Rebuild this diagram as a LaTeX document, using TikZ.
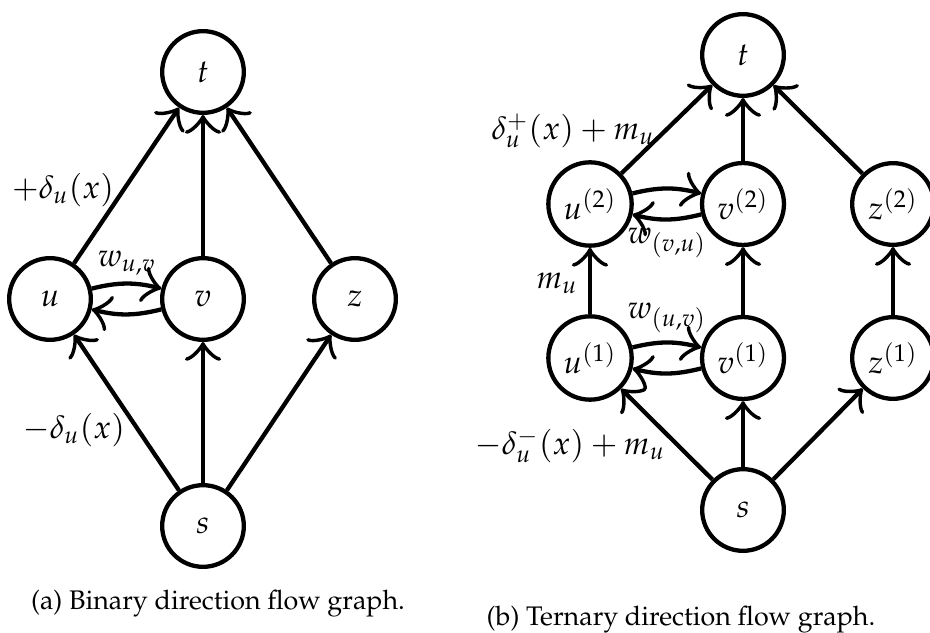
\documentclass[tikz,border=0pt]{standalone}
\usepackage[T1]{fontenc}
\usepackage{mathpazo}
\usetikzlibrary{arrows.meta}
\begin{document}
\begin{tikzpicture}[x=0.3723pt,y=-0.3723pt,
  font=\fontsize{12}{14}\selectfont,
  vtx/.style={circle,draw,line width=1.6pt,minimum size=30.4pt,inner sep=3pt},
  arr/.style={-{Classical TikZ Rightarrow[scale=1.7]},line width=1.6pt},
  lbl/.style={inner sep=0pt},
  captxt/.style={inner sep=0pt,anchor=base,font=\fontsize{10}{12}\selectfont}]
\useasboundingbox (0,0) rectangle (930,633);
% (a)
\node[vtx] (at) at (203,72) {$t$};
\node[vtx] (au) at (50,299) {$u$};
\node[vtx] (av) at (203,299) {$v$};
\node[vtx] (az) at (355,299) {$z$};
\node[vtx] (as) at (203,526) {$s$};
\draw[arr] (au) -- (at);
\draw[arr] (av) -- (at);
\draw[arr] (az) -- (at);
\draw[arr] (as) -- (au);
\draw[arr] (as) -- (av);
\draw[arr] (as) -- (az);
\draw[arr] (au) to[bend left=14] (av);
\draw[arr] (av) to[bend left=14] (au);
\node[lbl] (la1) at (63,190) {$+\delta_u(x)$};
\node[lbl] (la2) at (127,263) {$w_{u,v}$};
\node[lbl] (la3) at (74,430) {$-\delta_u(x)$};
\node[captxt] (capa) at (218,609) {(a) Binary direction flow graph.};
% (b)
\node[vtx] (bt) at (743,55) {$t$};
\node[vtx] (bu2) at (590,204) {$u^{(2)}$};
\node[vtx] (bv2) at (743,204) {$v^{(2)}$};
\node[vtx] (bz2) at (893,204) {$z^{(2)}$};
\node[vtx] (bu1) at (590,358) {$u^{(1)}$};
\node[vtx] (bv1) at (743,358) {$v^{(1)}$};
\node[vtx] (bz1) at (893,358) {$z^{(1)}$};
\node[vtx] (bs) at (743,510) {$s$};
\draw[arr] (bu2) -- (bt);
\draw[arr] (bv2) -- (bt);
\draw[arr] (bz2) -- (bt);
\draw[arr] (bu1) -- (bu2);
\draw[arr] (bv1) -- (bv2);
\draw[arr] (bz1) -- (bz2);
\draw[arr] (bs) -- (bu1);
\draw[arr] (bs) -- (bv1);
\draw[arr] (bs) -- (bz1);
\draw[arr] (bu2) to[bend left=14] (bv2);
\draw[arr] (bv2) to[bend left=14] (bu2);
\draw[arr] (bu1) to[bend left=14] (bv1);
\draw[arr] (bv1) to[bend left=14] (bu1);
\node[lbl] (lb1) at (573,131) {$\delta_u^+(x)+m_u$};
\node[lbl] (lb2) at (667,243) {$w_{(v,u)}$};
\node[lbl] (lb3) at (557,283) {$m_u$};
\node[lbl] (lb4) at (667,318) {$w_{(u,v)}$};
\node[lbl] (lb5) at (570,446) {$-\delta_u^-(x)+m_u$};
\node[captxt] (capb) at (681,625) {(b) Ternary direction flow graph.};
\end{tikzpicture}
\end{document}
